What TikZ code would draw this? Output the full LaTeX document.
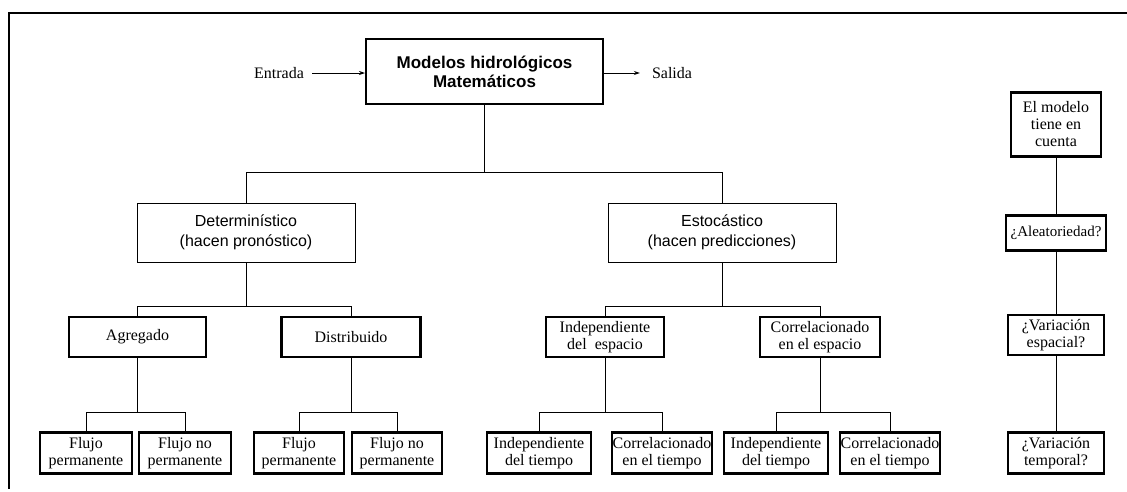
\documentclass[tikz,border=0pt]{standalone}
\usepackage{fontspec}
\setmainfont{Liberation Serif}
\newfontfamily\arialfont{Liberation Sans}
\usetikzlibrary{arrows.meta}

\begin{document}
\begin{tikzpicture}[x=1pt,y=-1pt,
  conn/.style={line width=0.8pt},
  flow/.style={line width=0.8pt,-{Stealth[length=6pt,width=4pt]}},
  frameline/.style={line width=1.2pt},
  mainbox/.style={draw,line width=2pt,minimum width=237pt,minimum height=65pt,
    align=center,inner sep=0pt,font=\arialfont\bfseries\fontsize{17}{19}\selectfont},
  sansbox/.style={draw,line width=1pt,minimum height=59pt,
    align=center,inner sep=0pt,font=\arialfont\fontsize{16}{20}\selectfont},
  serifbox/.style={draw,line width=2.6pt,align=center,inner sep=0pt,
    minimum height=40pt,font=\fontsize{16}{17}\selectfont},
  qbox/.style={serifbox,line width=2.2pt},
  lbl/.style={inner sep=0pt,font=\fontsize{16}{18}\selectfont}
]
\useasboundingbox (0,0) rectangle (1127,491);

% page frame
\draw[frameline] (1127,13) -- (9,13) -- (9,489);

% top level
\node[lbl] (in) at (279,73) {Entrada};
\node[mainbox] (main) at (484.5,71.5) {Modelos hidrológicos\\Matemáticos};
\node[lbl] (out) at (672,73) {Salida};
\draw[flow,shorten <=8pt] (in.east) -- (in.east -| main.west);
\draw[flow,shorten >=12pt] (out.west -| main.east) -- (out.west);

% second level
\node[sansbox,minimum width=218pt] (det) at (246,232.5) {Determinístico\\(hacen pronóstico)};
\node[sansbox,minimum width=228pt] (est) at (722,232.5) {Estocástico\\(hacen predicciones)};
\draw[conn] (main.south) -- ++(0,67) -| (det.north);
\draw[conn] (main.south) -- ++(0,67) -| (est.north);

% third level
\node[serifbox,minimum width=137pt] (agr) at (137.5,337) {Agregado};
\node[serifbox,minimum width=139pt] (dis) at (351,337) {Distribuido};
\node[serifbox,minimum width=118pt] (iesp) at (605,337) {Independiente\\del\ \ espacio};
\node[serifbox,minimum width=120pt] (cesp) at (820,337) {Correlacionado\\en el espacio};
\draw[conn] (det.south) -- ++(0,44) -| (agr.north);
\draw[conn] (det.south) -- ++(0,44) -| (dis.north);
\draw[conn] (est.south) -- ++(0,44) -| (iesp.north);
\draw[conn] (est.south) -- ++(0,44) -| (cesp.north);

% bottom level
\node[serifbox,minimum width=92pt,minimum height=41pt] (f1) at (86,453) {Flujo\\permanente};
\node[serifbox,minimum width=92pt,minimum height=41pt] (f2) at (185,453) {Flujo no\\permanente};
\node[serifbox,minimum width=90pt,minimum height=41pt] (f3) at (299,453) {Flujo\\permanente};
\node[serifbox,minimum width=90pt,minimum height=41pt] (f4) at (397,453) {Flujo no\\permanente};
\node[serifbox,minimum width=104pt,minimum height=41pt] (i1) at (539,453) {Independiente\\del tiempo};
\node[serifbox,minimum width=100pt,minimum height=41pt] (c1) at (662,453) {Correlacionado\\en el tiempo};
\node[serifbox,minimum width=104pt,minimum height=41pt] (i2) at (776,453) {Independiente\\del tiempo};
\node[serifbox,minimum width=100pt,minimum height=41pt] (c2) at (890,453) {Correlacionado\\en el tiempo};
\draw[conn] (agr.south) -- ++(0,54) -| (f1.north);
\draw[conn] (agr.south) -- ++(0,54) -| (f2.north);
\draw[conn] (dis.south) -- ++(0,54) -| (f3.north);
\draw[conn] (dis.south) -- ++(0,54) -| (f4.north);
\draw[conn] (iesp.south) -- ++(0,54) -| (i1.north);
\draw[conn] (iesp.south) -- ++(0,54) -| (c1.north);
\draw[conn] (cesp.south) -- ++(0,54) -| (i2.north);
\draw[conn] (cesp.south) -- ++(0,54) -| (c2.north);

% right column: what the model takes into account
\node[qbox,minimum width=90pt,minimum height=64pt] (model) at (1056,124.5) {El modelo\\tiene en\\cuenta};
\node[qbox,minimum width=100pt,minimum height=35pt,font=\fontsize{15}{17}\selectfont] (alea) at (1056,233) {¿Aleatoriedad?};
\node[qbox,minimum width=96pt,minimum height=40pt] (vesp) at (1056,335) {¿Variación\\espacial?};
\node[qbox,minimum width=96pt,minimum height=41pt] (vtem) at (1056,453) {¿Variación\\temporal?};
\draw[conn] (model.south) -- (alea.north);
\draw[conn] (alea.south) -- (vesp.north);
\draw[conn] (vesp.south) -- (vtem.north);
\end{tikzpicture}
\end{document}
